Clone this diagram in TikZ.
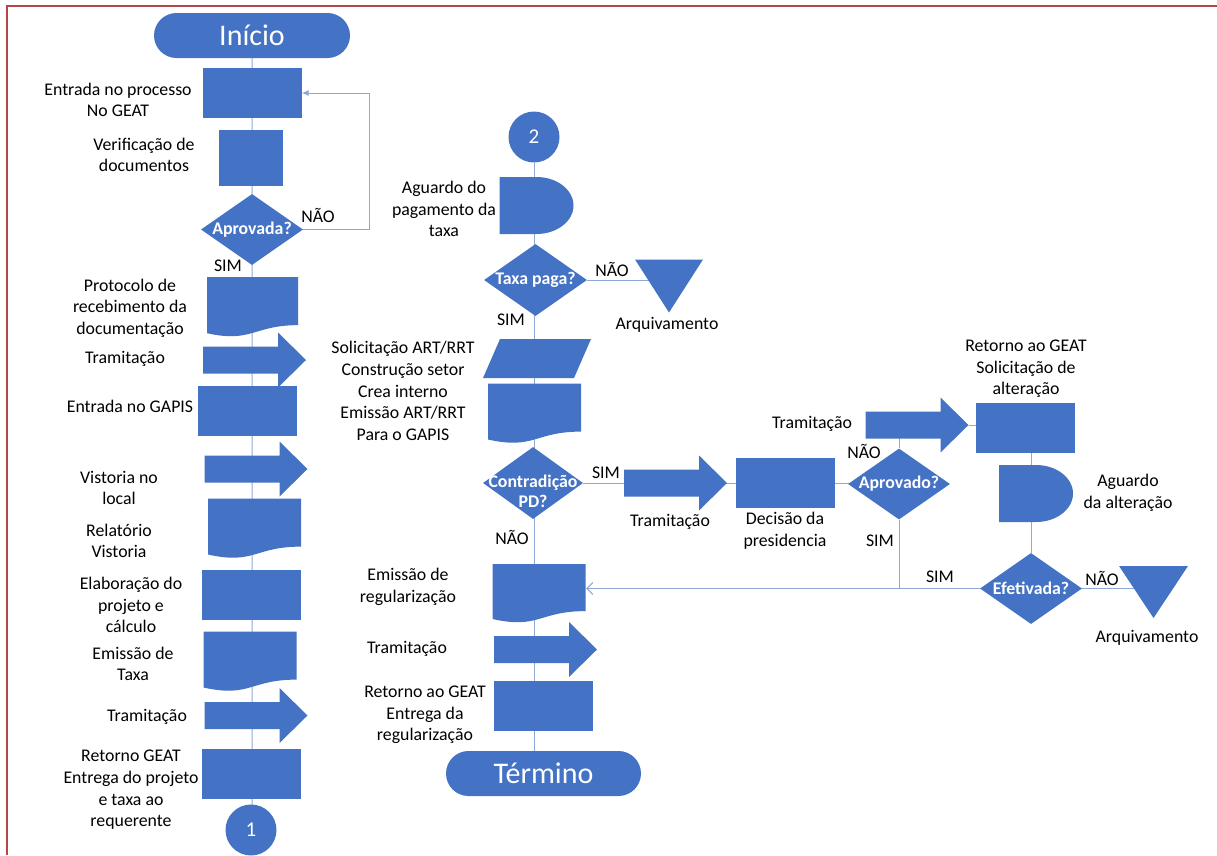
\documentclass[tikz,border=0pt]{standalone}
\usepackage{fontspec}
\setmainfont{Carlito}
\usepackage{tikz}
\usetikzlibrary{
  positioning,
  calc,
  arrows.meta,
  shapes.geometric,
  shapes.misc
}
\definecolor{flowBlue}{HTML}{4472C4}
\definecolor{lineBlue}{HTML}{8EA9D6}
\definecolor{frameRed}{HTML}{B5474B}
\pgfdeclarelayer{bg}
\pgfsetlayers{bg,main}
\newcommand{\ppbb}{path picture bounding box}

\tikzset{
  lbl/.style={align=center, inner sep=0pt, font=\fontsize{17.8}{21.6}\selectfont},
  conn/.style={lineBlue, line width=1pt},
  procbox/.style={rectangle, fill=flowBlue, minimum width=99pt, minimum height=50pt, inner sep=0pt},
  termbox/.style={rounded rectangle, fill=flowBlue, minimum width=196pt, minimum height=45pt,
    inner sep=0pt, text=white, font=\fontsize{30}{36}\selectfont},
  conbox/.style={circle, fill=flowBlue, minimum size=51pt, inner sep=0pt,
    text=white, font=\fontsize{21}{25}\selectfont},
  decbox/.style={diamond, fill=flowBlue, minimum width=102pt, minimum height=71pt, inner sep=0pt},
  dectext/.style={align=center, inner sep=0pt, text=white, font=\fontsize{17.8}{20}\selectfont\bfseries},
  % 書類の形（下が波）
  docbox/.style={rectangle, minimum width=93pt, minimum height=60pt, inner sep=0pt,
    path picture={\fill[flowBlue] (\ppbb.center) ++(-46.5pt,30pt) -- ++(93pt,0pt) -- ++(0pt,-48.1pt)
      .. controls +(-46.5pt,0pt) and +(46.5pt,-10.4pt) .. ++(-93pt,-7.9pt) -- cycle;}},
  % 待ちの形（右が半円）
  delaybox/.style={rectangle, minimum width=74pt, minimum height=57pt, inner sep=0pt,
    path picture={\fill[flowBlue] (\ppbb.center) ++(0pt,28.5pt) -- ++(-37pt,0pt) -- ++(0pt,-57pt) -- ++(37pt,0pt)
      arc[start angle=-90, end angle=90, x radius=37pt, y radius=28.5pt] -- cycle;}},
  % 下向きの三角形
  mergebox/.style={rectangle, minimum width=68pt, minimum height=53pt, inner sep=0pt,
    path picture={\fill[flowBlue] (\ppbb.north west) -- (\ppbb.north east) -- (\ppbb.south) -- cycle;}},
  % 平行四辺形
  databox/.style={rectangle, minimum width=108pt, minimum height=39pt, inner sep=0pt,
    path picture={\fill[flowBlue] (\ppbb.south west) -- ([xshift=17pt]\ppbb.north west)
      -- (\ppbb.north east) -- ([xshift=-17pt]\ppbb.south east) -- cycle;}},
  % 太い矢印
  movebox/.style={rectangle, minimum width=103pt, minimum height=55pt, inner sep=0pt,
    path picture={\fill[flowBlue] (\ppbb.center) ++(-51.5pt,13.5pt) -- ++(75pt,0pt) -- ++(0pt,14pt)
      -- ++(28pt,-27.5pt) -- ++(-28pt,-27.5pt) -- ++(0pt,14pt) -- ++(-75pt,0pt) -- cycle;}}
}

\begin{document}
\begin{tikzpicture}[x=1pt, y=-1pt]
      \useasboundingbox (0,0) rectangle (1217,855);
      % 枠線
      \draw[frameRed, line width=2pt] (7,855) -- (7,6) -- (1217,6);

      % 左の列
      \node[termbox] (inicio) at (252,35.5) {Início};
      \node[procbox] (entrada) at (252,93) {};
      \node[procbox, minimum width=64pt, minimum height=56pt] (verif) at (251,158) {};
      \node[decbox, label={[dectext]center:Aprovada?}] (aprovada) at (252,229.5) {};
      \node[docbox, minimum width=91pt] (protocolo) at (252.5,307) {};
      \node[movebox] (tram1) at (254.5,360) {};
      \node[procbox] (gapis) at (247.5,410.5) {};
      \node[movebox] (vistoria) at (256,469) {};
      \node[docbox] (relatorio) at (254.5,528.5) {};
      \node[procbox] (elab) at (251.5,595) {};
      \node[docbox] (emtaxa) at (250,661.5) {};
      \node[movebox] (tram5) at (256,715.5) {};
      \node[procbox] (retorno) at (251.5,774) {};
      \node[conbox] (c1) at (251,830) {1};

      % 真ん中の列
      \node[conbox] (c2) at (534,137) {2};
      \node[delaybox] (aguardo) at (536.5,205.5) {};
      \node[decbox, minimum width=103pt, minimum height=72pt, label={[dectext]center:Taxa paga?}] (taxa) at (535.5,280) {};
      \node[mergebox] (arq1) at (669,286) {};
      \node[databox] (solic) at (537,358.5) {};
      \node[docbox] (emart) at (534.5,413.5) {};
      \node[decbox, minimum width=100pt, minimum height=72pt,
        label={[dectext, yshift=-8pt]center:Contradição\\PD?}] (contrad) at (533,483) {};
      \node[docbox, minimum width=94pt, minimum height=58pt] (emreg) at (539,593) {};
      \node[movebox] (tram4) at (545.5,649.5) {};
      \node[procbox] (ret3) at (543.5,705.5) {};
      \node[termbox, minimum width=195pt] (termino) at (543.5,773.5) {Término};

      % 右の部分
      \node[movebox] (tram2) at (675.5,483) {};
      \node[procbox] (decisao) at (785.5,483) {};
      \node[decbox, label={[dectext]center:Aprovado?}] (aprovado) at (899,484) {};
      \node[movebox] (tram3) at (917,425) {};
      \node[procbox] (ret2) at (1025.5,428) {};
      \node[delaybox] (aguardo2) at (1036,493.5) {};
      \node[decbox, label={[dectext]center:Efetivada?}] (efet) at (1031,588.5) {};
      \node[mergebox, minimum width=69pt, minimum height=52pt] (arq2) at (1153.5,592) {};

      % 図形の後ろを通る線
      \begin{pgfonlayer}{bg}
        \draw[conn] (inicio) -- (inicio |- c1);
        \draw[conn] (c2) -- (c2 |- termino.north);
        \draw[conn] (taxa) -- (taxa -| arq1);
        \draw[conn] (contrad) -- (contrad -| aprovado);
        \draw[conn] (aprovado) -- (aprovado |- tram3);
        \draw[conn] (tram3) -- (tram3 -| ret2);
        \draw[conn] (efet) -- (efet |- ret2);
        \draw[conn] (efet) -- (efet -| arq2);
        \draw[conn] (aprovado) -- (aprovado |- efet);
      \end{pgfonlayer}

      % NÃOで戻る線
      \draw[conn, -{Latex[length=7pt, width=6pt]}] (aprovada.east) -- ++(66,0) |- (entrada.east);
      % SIMで発行へ戻る線
      \draw[conn, -{Straight Barb[length=6pt, width=12pt]}] (efet.west) -- (efet.west -| emreg.east);

      % 左の列の文字
      \node[lbl] (lEntrada) at (118,100) {Entrada no processo\\No GEAT};
      \node[lbl] (lVerif) at (144,155) {Verificação de\\documentos};
      \node[lbl] (lNao1) at (318,215) {NÃO};
      \node[lbl] (lSim1) at (228,266) {SIM};
      \node[lbl] (lProt) at (130,308) {Protocolo de\\recebimento da\\documentação};
      \node[lbl] (lTram1) at (125,359) {Tramitação};
      \node[lbl] (lGapis) at (130,406) {Entrada no GAPIS};
      \node[lbl] (lVist) at (119,488) {Vistoria no\\local};
      \node[lbl] (lRel) at (119,541) {Relatório\\Vistoria};
      \node[lbl] (lElab) at (131,605) {Elaboração do\\projeto e\\cálculo};
      \node[lbl] (lTaxa) at (133,664) {Emissão de\\Taxa};
      \node[lbl] (lTram5) at (147,717) {Tramitação};
      \node[lbl] (lRet) at (131,790) {Retorno GEAT\\Entrega do projeto\\e taxa ao\\requerente};

      % 真ん中の列の文字
      \node[lbl] (lAguardo) at (444,209) {Aguardo do\\pagamento da\\taxa};
      \node[lbl] (lNao2) at (612,269) {NÃO};
      \node[lbl] (lArq1) at (667,325) {Arquivamento};
      \node[lbl] (lSim2) at (511,320) {SIM};
      \node[lbl] (lSolic) at (403,391) {Solicitação ART/RRT\\Construção setor\\Crea interno\\Emissão ART/RRT\\Para o GAPIS};
      \node[lbl] (lSim3) at (606,473) {SIM};
      \node[lbl] (lTram2) at (670,522) {Tramitação};
      \node[lbl] (lNao3) at (512,537) {NÃO};
      \node[lbl] (lEmreg) at (408,587) {Emissão de\\regularização};
      \node[lbl] (lTram4) at (407,649) {Tramitação};
      \node[lbl] (lRet3) at (425,715) {Retorno ao GEAT\\Entrega da\\regularização};

      % 右の部分の文字
      \node[lbl] (lDecisao) at (785,531) {Decisão da\\presidencia};
      \node[lbl] (lNao4) at (864,451) {NÃO};
      \node[lbl] (lSim4) at (880,541) {SIM};
      \node[lbl] (lTram3) at (812,424) {Tramitação};
      \node[lbl] (lRet2) at (1026,369) {Retorno ao GEAT\\Solicitação de\\alteração};
      \node[lbl] (lAguardo2) at (1128,493) {Aguardo\\da alteração};
      \node[lbl] (lNao5) at (1102,578) {NÃO};
      \node[lbl] (lSim5) at (940,577) {SIM};
      \node[lbl] (lArq2) at (1147,638) {Arquivamento};
    \end{tikzpicture}
\end{document}
